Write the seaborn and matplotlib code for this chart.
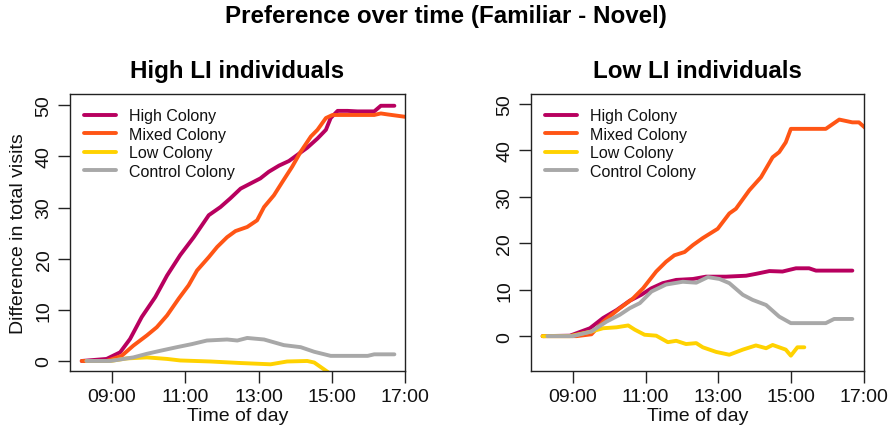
import matplotlib
matplotlib.use("Agg")
import matplotlib.pyplot as plt
import seaborn as sns
import pandas as pd
from matplotlib.lines import Line2D

sns.set_theme(style="white")
plt.rcParams['font.family'] = ['Liberation Sans', 'DejaVu Sans']
plt.rcParams['text.color'] = '#111111'

# ---------------- data (time in decimal hours) ----------------
series_names = ["High Colony", "Mixed Colony", "Low Colony", "Control Colony"]
series_colors = ["#B8005F", "#FF5515", "#FFD200", "#A8A8A8"]
tick_hours = [9, 11, 13, 15, 17]
tick_labels = ["09:00", "11:00", "13:00", "15:00", "17:00"]

# High LI individuals
hi_high_t = [8.17, 8.85, 9.22, 9.49, 9.81, 10.18, 10.50, 10.86, 11.23, 11.64, 11.96, 12.23, 12.51,
             12.78, 13.05, 13.28, 13.56, 13.83, 14.06, 14.33, 14.61, 14.84, 14.97, 15.16, 15.43,
             15.70, 16.16, 16.34, 16.71]
hi_high_v = [0, 0.4, 1.7, 4.3, 8.6, 12.5, 16.7, 20.7, 24.2, 28.5, 30.1, 31.8, 33.7,
             34.7, 35.7, 37.0, 38.2, 39.1, 40.3, 41.7, 43.5, 45.2, 47.5, 48.9, 48.9,
             48.8, 48.8, 49.9, 49.9]
hi_mixed_t = [8.17, 8.85, 9.26, 9.58, 9.95, 10.22, 10.50, 10.82, 11.09, 11.32, 11.64, 11.87, 12.14,
              12.37, 12.69, 12.96, 13.15, 13.42, 13.65, 13.92, 14.15, 14.43, 14.61, 14.84, 15.02,
              15.34, 16.16, 16.34, 16.53, 17.05]
hi_mixed_v = [0, 0, 1.0, 3.0, 5.0, 6.6, 8.9, 12.2, 14.8, 17.7, 20.3, 22.3, 24.2,
              25.4, 26.2, 27.5, 30.1, 32.4, 35.0, 38.0, 40.9, 43.9, 45.2, 47.5, 48.1,
              48.1, 48.1, 48.4, 48.2, 47.7]
hi_low_t = [8.30, 8.95, 9.40, 9.95, 10.50, 10.86, 11.68, 12.51, 13.33, 13.78, 14.33, 14.52,
            14.70, 14.88, 15.05, 15.35]
hi_low_v = [0, 0, 0.5, 0.7, 0.4, 0.1, -0.1, -0.4, -0.65, -0.1, 0, -0.3,
            -1.2, -2.1, -3.0, -3.0]
hi_ctrl_t = [8.30, 8.95, 9.58, 9.95, 10.32, 10.77, 11.18, 11.59, 12.14, 12.42, 12.69, 13.15,
             13.69, 14.15, 14.52, 14.97, 15.34, 15.98, 16.16, 16.71]
hi_ctrl_v = [0, 0, 0.7, 1.4, 2.0, 2.7, 3.3, 4.0, 4.2, 4.0, 4.5, 4.2,
             3.1, 2.7, 1.8, 1.0, 1.0, 1.0, 1.3, 1.3]

# Low LI individuals
lo_high_t = [8.17, 8.92, 9.47, 9.83, 10.20, 10.56, 10.88, 11.16, 11.47, 11.84, 12.30, 12.66,
             13.21, 13.76, 14.03, 14.40, 14.76, 15.13, 15.49, 15.68, 16.68]
lo_high_v = [0, 0.1, 1.7, 3.9, 5.6, 7.6, 8.9, 10.3, 11.4, 12.1, 12.3, 12.8,
             12.8, 13.0, 13.4, 14.0, 13.9, 14.6, 14.6, 14.1, 14.1]
lo_mixed_t = [8.17, 9.10, 9.51, 9.83, 10.29, 10.65, 10.93, 11.29, 11.56, 11.79, 12.07, 12.30,
              12.57, 12.98, 13.30, 13.48, 13.85, 14.17, 14.49, 14.67, 14.85, 14.99, 15.31,
              15.95, 16.32, 16.68, 16.86, 17.05]
lo_mixed_v = [0, 0, 0.4, 3.1, 6.0, 8.1, 10.3, 13.9, 16.0, 17.4, 18.1, 19.6,
              21.1, 23.1, 26.4, 27.4, 31.4, 34.2, 38.5, 39.6, 41.7, 44.6, 44.6,
              44.6, 46.6, 46.0, 46.0, 44.7]
lo_low_t = [8.17, 8.92, 9.51, 9.83, 10.20, 10.52, 10.70, 10.97, 11.29, 11.61, 11.84, 12.11,
            12.39, 12.57, 12.94, 13.30, 13.67, 14.03, 14.31, 14.49, 14.85, 14.99, 15.17, 15.36]
lo_low_v = [0, 0, 1.0, 1.7, 1.9, 2.3, 1.4, 0.3, 0.1, -1.3, -1.0, -1.7,
            -1.5, -2.4, -3.4, -4.0, -2.9, -2.0, -2.6, -1.9, -2.9, -4.2, -2.4, -2.4]
lo_ctrl_t = [8.30, 9.00, 9.51, 9.92, 10.29, 10.56, 10.84, 11.16, 11.56, 12.02, 12.39, 12.71,
             13.03, 13.30, 13.67, 13.94, 14.31, 14.67, 14.99, 15.31, 15.95, 16.18, 16.68]
lo_ctrl_v = [0, 0, 1.0, 3.1, 4.6, 6.0, 7.1, 9.6, 11.1, 11.7, 11.5, 12.7,
             12.3, 11.4, 8.9, 7.8, 6.7, 4.2, 2.8, 2.8, 2.8, 3.7, 3.7]

panels = [
    ("High LI individuals",
     [(hi_high_t, hi_high_v), (hi_mixed_t, hi_mixed_v), (hi_low_t, hi_low_v), (hi_ctrl_t, hi_ctrl_v)],
     (-1.96, 52.2)),
    ("Low LI individuals",
     [(lo_high_t, lo_high_v), (lo_mixed_t, lo_mixed_v), (lo_low_t, lo_low_v), (lo_ctrl_t, lo_ctrl_v)],
     (-7.5, 52.1)),
]

# ---------------- figure ----------------
W, H = 892, 435
fig = plt.figure(figsize=(W / 100, H / 100), dpi=100)
boxes = [(70, 405), (531, 864)]
top_px, bot_px = 95, 372

FS = 14
for i, (title, data, ylim) in enumerate(panels):
    l, r = boxes[i]
    ax = fig.add_axes([l / W, 1 - bot_px / H, (r - l) / W, (bot_px - top_px) / H])
    ax.set_facecolor("white")
    for name, color, (t, v) in zip(series_names, series_colors, data):
        df = pd.DataFrame({"time": t, "value": v})
        sns.lineplot(data=df, x="time", y="value", color=color, lw=2.8, ax=ax,
                     estimator=None, sort=False, legend=False, solid_capstyle="round")
    ax.set_xlim(7.85, 17.0)
    ax.set_ylim(*ylim)
    ax.set_xticks(tick_hours)
    ax.set_xticklabels(tick_labels)
    ax.set_yticks([0, 10, 20, 30, 40, 50])
    ax.set_yticklabels(["0", "10", "20", "30", "40", "50"], rotation=90, va="center")
    for s in ax.spines.values():
        s.set_visible(True)
        s.set_color("#222222")
        s.set_linewidth(1.0)
    ax.tick_params(axis="both", which="both", direction="out", length=8.6, width=1.0,
                   color="#222222", labelsize=FS, labelcolor="#111111", bottom=True, left=True,
                   top=False, right=False)
    ax.tick_params(axis="x", pad=4)
    ax.tick_params(axis="y", pad=4)
    ax.set_xlabel("Time of day", fontsize=FS, color="#111111", labelpad=1)
    if i == 0:
        ax.set_ylabel("Difference in total visits", fontsize=FS, color="#111111", labelpad=6)
    else:
        ax.set_ylabel("")
    ax.set_title(title, fontsize=17.4, fontweight="bold", pad=12, color="#000000")
    handles = [Line2D([0], [0], color=c, lw=2.8) for c in series_colors]
    leg = ax.legend(handles, series_names, loc="upper left", frameon=False, fontsize=11.5,
                    handlelength=2.0, handletextpad=0.8, labelspacing=0.22,
                    borderpad=0.4, borderaxespad=0.5)
    for txt in leg.get_texts():
        txt.set_color("#111111")

fig.suptitle("Preference over time (Familiar - Novel)", fontsize=17.4, fontweight="bold",
             y=1 - 17 / H, va="center", x=446 / W, color="#000000")

fig.savefig("out.png", dpi=100, facecolor="white")
